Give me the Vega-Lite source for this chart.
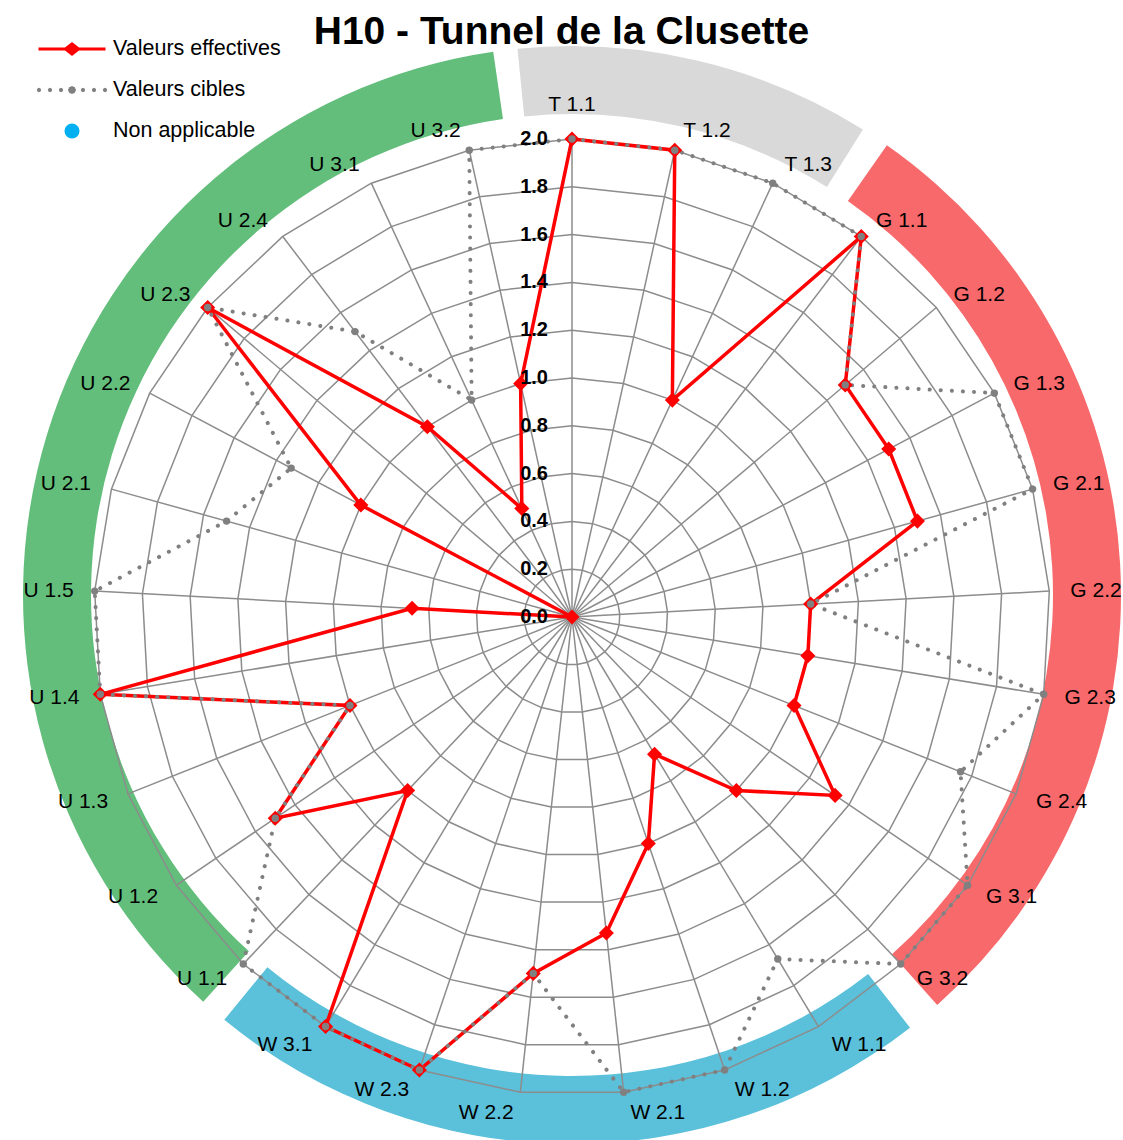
{
  "$schema": "https://vega.github.io/schema/vega-lite/v6.json",
  "width": 1123,
  "height": 1140,
  "autosize": "none",
  "padding": 0,
  "background": "white",
  "config": {
    "view": {"stroke": null},
    "font": "Liberation Sans",
    "legend": {
      "orient": "none",
      "legendX": 37,
      "legendY": 38,
      "padding": 0,
      "symbolSize": 4489,
      "clipHeight": 22,
      "rowPadding": 19,
      "labelOffset": 6,
      "labelFontSize": 21.5,
      "labelFont": "Liberation Sans",
      "labelColor": "black",
      "labelLimit": 400,
      "symbolStrokeWidth": 3,
      "symbolOpacity": 1
    }
  },
  "title": {"text": "H10 - Tunnel de la Clusette", "fontSize": 39, "fontWeight": "bold", "font": "Liberation Sans", "color": "black", "anchor": "middle", "orient": "top", "offset": 0, "dy": 83, "baseline": "alphabetic"},
  "datasets": {
    "axes": [
      {"n": 0, "axe": "T 1.1", "eff": 2, "cible": 2},
      {"n": 1, "axe": "T 1.2", "eff": 2, "cible": 2},
      {"n": 2, "axe": "T 1.3", "eff": 1, "cible": 2},
      {"n": 3, "axe": "G 1.1", "eff": 2, "cible": 2},
      {"n": 4, "axe": "G 1.2", "eff": 1.5, "cible": 1.5},
      {"n": 5, "axe": "G 1.3", "eff": 1.5, "cible": 2},
      {"n": 6, "axe": "G 2.1", "eff": 1.5, "cible": 2},
      {"n": 7, "axe": "G 2.2", "eff": 1, "cible": 1},
      {"n": 8, "axe": "G 2.3", "eff": 1, "cible": 2},
      {"n": 9, "axe": "G 2.4", "eff": 1, "cible": 1.75},
      {"n": 10, "axe": "G 3.1", "eff": 1.33, "cible": 2},
      {"n": 11, "axe": "G 3.2", "eff": 1, "cible": 2},
      {"n": 12, "axe": "W 1.1", "eff": 0.67, "cible": 1.67},
      {"n": 13, "axe": "W 1.2", "eff": 1, "cible": 2},
      {"n": 14, "axe": "W 2.1", "eff": 1.33, "cible": 2},
      {"n": 15, "axe": "W 2.2", "eff": 1.5, "cible": 1.5},
      {"n": 16, "axe": "W 2.3", "eff": 2, "cible": 2},
      {"n": 17, "axe": "W 3.1", "eff": 2, "cible": 2},
      {"n": 18, "axe": "U 1.1", "eff": 1, "cible": 2},
      {"n": 19, "axe": "U 1.2", "eff": 1.5, "cible": 1.5},
      {"n": 20, "axe": "U 1.3", "eff": 1, "cible": 1},
      {"n": 21, "axe": "U 1.4", "eff": 2, "cible": 2},
      {"n": 22, "axe": "U 1.5", "eff": 0.67, "cible": 2},
      {"n": 23, "axe": "U 2.1", "eff": 0, "cible": 1.5},
      {"n": 24, "axe": "U 2.2", "eff": 1, "cible": 1.33},
      {"n": 25, "axe": "U 2.3", "eff": 2, "cible": 2},
      {"n": 26, "axe": "U 2.4", "eff": 1, "cible": 1.5},
      {"n": 27, "axe": "U 3.1", "eff": 0.5, "cible": 1},
      {"n": 28, "axe": "U 3.2", "eff": 1, "cible": 2}
    ],
    "bandes": [
      {"groupe": "T", "debut": -5.7, "fin": 32.0},
      {"groupe": "G", "debut": 35.0, "fin": 138.3},
      {"groupe": "W", "debut": 142.0, "fin": 219.3},
      {"groupe": "U", "debut": 222.2, "fin": 351.75}
    ],
    "grille": [
      {"anneau": [0, 0.2, 0.4, 0.6, 0.8, 1.0, 1.2, 1.4, 1.6, 1.8, 2.0],
       "rayon": [0, 1, 2, 3, 4, 5, 6, 7, 8, 9, 10, 11, 12, 13, 14, 15, 16, 17, 18, 19, 20, 21, 22, 23, 24, 25, 26, 27, 28]}
    ],
    "series": [
      {"serie": "Valeurs effectives"},
      {"serie": "Valeurs cibles"},
      {"serie": "Non applicable"}
    ]
  },
  "layer": [
    {
      "data": {"name": "bandes"},
      "mark": {"type": "arc", "innerRadius": 481, "outerRadius": 549},
      "encoding": {
        "x": {"datum": 0, "type": "quantitative", "scale": {"domain": [-2.3933, 2.3054], "nice": false, "zero": false}, "axis": null},
        "y": {"datum": 0.092, "type": "quantitative", "scale": {"domain": [-2.1883, 2.5816], "nice": false, "zero": false}, "axis": null},
        "theta": {"field": "debut", "type": "quantitative", "stack": null, "scale": {"domain": [0, 360], "range": [0, 6.283185307]}},
        "theta2": {"field": "fin"},
        "color": {"field": "groupe", "type": "nominal", "scale": {"domain": ["T", "G", "W", "U"], "range": ["#D9D9D9", "#F8696B", "#5BC0DA", "#63BE7B"]}, "legend": null}
      }
    },
    {
      "data": {"name": "grille"},
      "transform": [
        {"flatten": ["anneau"]},
        {"flatten": ["rayon"]},
        {"calculate": "datum.anneau*sin(datum.rayon*2*PI/29)", "as": "gx"},
        {"calculate": "datum.anneau*cos(datum.rayon*2*PI/29)", "as": "gy"}
      ],
      "mark": {"type": "line", "interpolate": "linear-closed", "color": "#8c8c8c", "strokeWidth": 1.5},
      "encoding": {
        "x": {"field": "gx", "type": "quantitative", "scale": {"domain": [-2.3933, 2.3054], "nice": false, "zero": false}, "axis": null},
        "y": {"field": "gy", "type": "quantitative", "scale": {"domain": [-2.1883, 2.5816], "nice": false, "zero": false}, "axis": null},
        "detail": {"field": "anneau", "type": "nominal"},
        "order": {"field": "rayon", "type": "quantitative"}
      }
    },
    {
      "data": {"name": "axes"},
      "transform": [
        {"calculate": "2*sin(datum.n*2*PI/29)", "as": "px"},
        {"calculate": "2*cos(datum.n*2*PI/29)", "as": "py"}
      ],
      "mark": {"type": "rule", "color": "#8c8c8c", "strokeWidth": 1.5},
      "encoding": {
        "x": {"field": "px", "type": "quantitative", "scale": {"domain": [-2.3933, 2.3054], "nice": false, "zero": false}, "axis": null},
        "y": {"field": "py", "type": "quantitative", "scale": {"domain": [-2.1883, 2.5816], "nice": false, "zero": false}, "axis": null},
        "x2": {"datum": 0},
        "y2": {"datum": 0}
      }
    },
    {
      "data": {"name": "axes"},
      "transform": [
        {"calculate": "datum.eff*sin(datum.n*2*PI/29)", "as": "ex"},
        {"calculate": "datum.eff*cos(datum.n*2*PI/29)", "as": "ey"}
      ],
      "mark": {"type": "line", "interpolate": "linear-closed", "strokeWidth": 3.5, "color": "#FF0000"},
      "encoding": {
        "x": {"field": "ex", "type": "quantitative", "scale": {"domain": [-2.3933, 2.3054], "nice": false, "zero": false}, "axis": null},
        "y": {"field": "ey", "type": "quantitative", "scale": {"domain": [-2.1883, 2.5816], "nice": false, "zero": false}, "axis": null},
        "order": {"field": "n", "type": "quantitative"}
      }
    },
    {
      "data": {"name": "axes"},
      "transform": [
        {"calculate": "datum.cible*sin(datum.n*2*PI/29)", "as": "cx"},
        {"calculate": "datum.cible*cos(datum.n*2*PI/29)", "as": "cy"}
      ],
      "mark": {"type": "line", "interpolate": "linear-closed", "strokeWidth": 4, "strokeDash": [0.1, 11], "strokeCap": "round", "color": "#808080"},
      "encoding": {
        "x": {"field": "cx", "type": "quantitative", "scale": {"domain": [-2.3933, 2.3054], "nice": false, "zero": false}, "axis": null},
        "y": {"field": "cy", "type": "quantitative", "scale": {"domain": [-2.1883, 2.5816], "nice": false, "zero": false}, "axis": null},
        "order": {"field": "n", "type": "quantitative"}
      }
    },
    {
      "data": {"name": "axes"},
      "transform": [
        {"calculate": "datum.eff*sin(datum.n*2*PI/29)", "as": "ex"},
        {"calculate": "datum.eff*cos(datum.n*2*PI/29)", "as": "ey"}
      ],
      "mark": {"type": "point", "shape": "diamond", "size": 150, "filled": true, "color": "#FF0000", "stroke": "#FF0000", "strokeWidth": 2, "opacity": 1},
      "encoding": {
        "x": {"field": "ex", "type": "quantitative", "scale": {"domain": [-2.3933, 2.3054], "nice": false, "zero": false}, "axis": null},
        "y": {"field": "ey", "type": "quantitative", "scale": {"domain": [-2.1883, 2.5816], "nice": false, "zero": false}, "axis": null}
      }
    },
    {
      "data": {"name": "axes"},
      "transform": [
        {"calculate": "datum.cible*sin(datum.n*2*PI/29)", "as": "cx"},
        {"calculate": "datum.cible*cos(datum.n*2*PI/29)", "as": "cy"}
      ],
      "mark": {"type": "point", "shape": "circle", "size": 55, "filled": true, "color": "#808080", "opacity": 1},
      "encoding": {
        "x": {"field": "cx", "type": "quantitative", "scale": {"domain": [-2.3933, 2.3054], "nice": false, "zero": false}, "axis": null},
        "y": {"field": "cy", "type": "quantitative", "scale": {"domain": [-2.1883, 2.5816], "nice": false, "zero": false}, "axis": null}
      }
    },
    {
      "data": {"name": "axes"},
      "transform": [
        {"calculate": "sin(datum.n*2*PI/29)", "as": "s"},
        {"calculate": "cos(datum.n*2*PI/29)", "as": "c"},
        {"calculate": "2*datum.s + (abs(datum.s) < 0.01 ? 0 : (datum.s > 0 ? 1 : -1)*(5 + 16*abs(datum.s))/239)", "as": "lx"},
        {"calculate": "2*datum.c + (abs(datum.s) < 0.01 ? 34 : -0.5 + 20.5*datum.c)/239", "as": "ly"}
      ],
      "mark": {"type": "text", "fontSize": 21, "font": "Liberation Sans", "color": "black", "baseline": "middle", "align": {"expr": "datum.s > 0.01 ? 'left' : datum.s < -0.01 ? 'right' : 'center'"}},
      "encoding": {
        "x": {"field": "lx", "type": "quantitative", "scale": {"domain": [-2.3933, 2.3054], "nice": false, "zero": false}, "axis": null},
        "y": {"field": "ly", "type": "quantitative", "scale": {"domain": [-2.1883, 2.5816], "nice": false, "zero": false}, "axis": null},
        "text": {"field": "axe", "type": "nominal"}
      }
    },
    {
      "data": {"name": "grille"},
      "transform": [{"flatten": ["anneau"]}],
      "mark": {"type": "text", "fontSize": 20, "fontWeight": "bold", "font": "Liberation Sans", "color": "black", "baseline": "middle", "align": "right", "dx": -24},
      "encoding": {
        "x": {"datum": 0, "type": "quantitative", "scale": {"domain": [-2.3933, 2.3054], "nice": false, "zero": false}, "axis": null},
        "y": {"field": "anneau", "type": "quantitative", "scale": {"domain": [-2.1883, 2.5816], "nice": false, "zero": false}, "axis": null},
        "text": {"field": "anneau", "type": "quantitative", "format": ".1f"}
      }
    },
    {
      "data": {"name": "series"},
      "mark": {"type": "point", "filled": true, "opacity": 0},
      "encoding": {
        "fill": {"field": "serie", "type": "nominal", "sort": null, "title": null,
          "scale": {"domain": ["Valeurs effectives", "Valeurs cibles", "Non applicable"], "range": ["#FF0000", "#808080", "#00B0F0"]}},
        "stroke": {"field": "serie", "type": "nominal", "sort": null, "title": null,
          "scale": {"domain": ["Valeurs effectives", "Valeurs cibles", "Non applicable"], "range": ["#FF0000", "transparent", "transparent"]}},
        "shape": {"field": "serie", "type": "nominal", "sort": null, "title": null,
          "scale": {"domain": ["Valeurs effectives", "Valeurs cibles", "Non applicable"], "range": [
            "M-1,0L1,0M-0.194,0L0,-0.15L0.194,0L0,0.15Z",
            "M-0.92,0L-0.939,0.046L-0.985,0.065L-1.031,0.046L-1.05,0L-1.031,-0.046L-0.985,-0.065L-0.939,-0.046ZM-0.592,0L-0.611,0.046L-0.657,0.065L-0.703,0.046L-0.722,0L-0.703,-0.046L-0.657,-0.065L-0.611,-0.046ZM-0.263,0L-0.282,0.046L-0.328,0.065L-0.374,0.046L-0.393,0L-0.374,-0.046L-0.328,-0.065L-0.282,-0.046ZM0.12,0L0.085,0.085L0,0.12L-0.085,0.085L-0.12,0L-0.085,-0.085L0,-0.12L0.085,-0.085ZM0.393,0L0.374,0.046L0.328,0.065L0.282,0.046L0.263,0L0.282,-0.046L0.328,-0.065L0.374,-0.046ZM0.722,0L0.703,0.046L0.657,0.065L0.611,0.046L0.592,0L0.611,-0.046L0.657,-0.065L0.703,-0.046ZM1.05,0L1.031,0.046L0.985,0.065L0.939,0.046L0.92,0L0.939,-0.046L0.985,-0.065L1.031,-0.046Z",
            "M0.224,0L0.207,0.086L0.158,0.158L0.086,0.207L0,0.224L-0.086,0.207L-0.158,0.158L-0.207,0.086L-0.224,0L-0.207,-0.086L-0.158,-0.158L-0.086,-0.207L0,-0.224L0.086,-0.207L0.158,-0.158L0.207,-0.086Z"
          ]}}
      }
    }
  ]
}
